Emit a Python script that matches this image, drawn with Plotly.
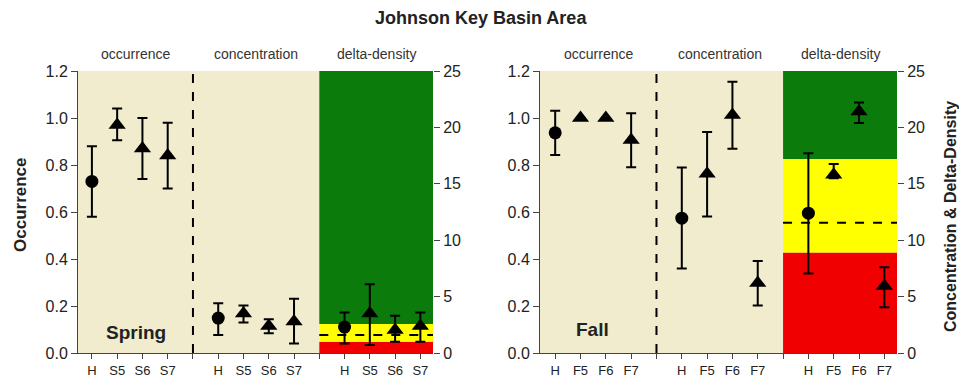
import plotly.graph_objects as go

# Sites per season
spring_sites = ["H", "S5", "S6", "S7"]
fall_sites = ["H", "F5", "F6", "F7"]

# Spring: occurrence (left axis), concentration and delta-density (right axis)
spring_occ = [0.73, 0.97, 0.87, 0.84]
spring_occ_lo = [0.58, 0.905, 0.74, 0.70]
spring_occ_hi = [0.88, 1.04, 1.00, 0.98]

spring_conc = [3.1, 3.5, 2.4, 2.8]
spring_conc_lo = [1.6, 2.7, 1.75, 0.85]
spring_conc_hi = [4.4, 4.2, 3.0, 4.8]

spring_dd = [2.3, 3.5, 2.05, 2.4]
spring_dd_lo = [0.85, 0.7, 1.0, 1.0]
spring_dd_hi = [3.6, 6.1, 3.3, 3.6]

# Fall
fall_occ = [0.937, 1.0, 1.0, 0.906]
fall_occ_lo = [0.843, 1.0, 1.0, 0.79]
fall_occ_hi = [1.031, 1.0, 1.0, 1.02]

fall_conc = [11.95, 15.9, 21.1, 6.2]
fall_conc_lo = [7.5, 12.1, 18.1, 4.2]
fall_conc_hi = [16.45, 19.6, 24.05, 8.15]

fall_dd = [12.4, 15.8, 21.4, 5.95]
fall_dd_lo = [7.05, 15.5, 20.4, 4.05]
fall_dd_hi = [17.7, 16.75, 22.2, 7.6]

# Delta-density bands: [red/yellow boundary, yellow/green boundary] and reference line
spring_bands = [1.0, 2.57]
spring_ref = 1.6
fall_bands = [8.9, 17.2]
fall_ref = 11.55

occ_ticks = [0, 0.2, 0.4, 0.6, 0.8, 1.0, 1.2]
dd_ticks = [0, 5, 10, 15, 20, 25]

W, H = 959, 382
BEIGE = "#F1ECCE"
GREEN = "#0B7B0B"
YELLOW = "#FFFF00"
RED = "#F00000"
FONT = "Liberation Sans, Arial, sans-serif"

symbols = ["circle", "triangle-up", "triangle-up", "triangle-up"]
sizes = [13, 15, 15, 15]


def err(vals, lo, hi):
    return dict(type="data", symmetric=False,
                array=[h - v for v, h in zip(vals, hi)],
                arrayminus=[v - l for v, l in zip(vals, lo)],
                color="black", thickness=2, width=5)


fig = go.Figure()


def add_panel(xa, ya_left, ya_right, occ, occ_lo, occ_hi, conc, conc_lo, conc_hi,
              dd, dd_lo, dd_hi):
    groups = [
        ([0, 1, 2, 3], occ, occ_lo, occ_hi, ya_left),
        ([5, 6, 7, 8], conc, conc_lo, conc_hi, ya_right),
        ([10, 11, 12, 13], dd, dd_lo, dd_hi, ya_right),
    ]
    for xs, v, lo, hi, ya in groups:
        fig.add_trace(go.Scatter(
            x=xs, y=v, mode="markers", xaxis=xa, yaxis=ya,
            marker=dict(symbol=symbols, size=sizes, color="black", opacity=1,
                        line=dict(width=0)),
            error_y=err(v, lo, hi), showlegend=False, hoverinfo="skip"))


add_panel("x", "y", "y2", spring_occ, spring_occ_lo, spring_occ_hi,
          spring_conc, spring_conc_lo, spring_conc_hi,
          spring_dd, spring_dd_lo, spring_dd_hi)
add_panel("x2", "y3", "y4", fall_occ, fall_occ_lo, fall_occ_hi,
          fall_conc, fall_conc_lo, fall_conc_hi,
          fall_dd, fall_dd_lo, fall_dd_hi)

shapes = []


def panel_shapes(xr, yr_right, x0, x1, bands, ref):
    # beige background for occurrence + concentration sections
    shapes.append(dict(type="rect", xref=xr, yref=yr_right, x0=x0, x1=9, y0=0, y1=25,
                       fillcolor=BEIGE, line=dict(width=0), layer="below"))
    # delta-density bands
    shapes.append(dict(type="rect", xref=xr, yref=yr_right, x0=9, x1=x1, y0=0, y1=bands[0],
                       fillcolor=RED, line=dict(width=0), layer="below"))
    shapes.append(dict(type="rect", xref=xr, yref=yr_right, x0=9, x1=x1, y0=bands[0], y1=bands[1],
                       fillcolor=YELLOW, line=dict(width=0), layer="below"))
    shapes.append(dict(type="rect", xref=xr, yref=yr_right, x0=9, x1=x1, y0=bands[1], y1=25,
                       fillcolor=GREEN, line=dict(width=0), layer="below"))
    # reference dashed line
    shapes.append(dict(type="line", xref=xr, yref=yr_right, x0=9, x1=x1, y0=ref, y1=ref,
                       line=dict(color="black", width=2, dash="dash"), layer="below"))
    # divider between occurrence and concentration
    shapes.append(dict(type="line", xref=xr, yref=yr_right, x0=4, x1=4, y0=0, y1=25,
                       line=dict(color="black", width=2, dash="dash"), layer="below"))


panel_shapes("x", "y2", -0.55, 13.5, spring_bands, spring_ref)
panel_shapes("x2", "y4", -0.6, 13.5, fall_bands, fall_ref)

ydom = [(H - 353) / H, (H - 71) / H]
tickvals = list(range(14))
spring_text = spring_sites + [""] + spring_sites + [""] + spring_sites
fall_text = fall_sites + [""] + fall_sites + [""] + fall_sites

xcommon = dict(tickvals=tickvals, ticks="outside", ticklen=5, tickcolor="#444",
               showline=True, linecolor="#444", linewidth=1, showgrid=False,
               zeroline=False, automargin=False,
               tickfont=dict(family=FONT, size=13, color="#222"))
yl = dict(range=[0, 1.2], tickvals=occ_ticks, ticktext=[f"{t:.1f}" for t in occ_ticks],
          domain=ydom, ticks="outside", ticklen=6, tickcolor="#444", showline=True,
          linecolor="#444", linewidth=1, showgrid=False, zeroline=False, automargin=False,
          tickfont=dict(family=FONT, size=16, color="#222"))
yr = dict(range=[0, 25], tickvals=dd_ticks, side="right", ticks="outside", ticklen=6,
          tickcolor="#444", showline=False, showgrid=False, zeroline=False, automargin=False,
          tickfont=dict(family=FONT, size=16, color="#222"))

fig.update_layout(
    width=W, height=H, autosize=False,
    margin=dict(l=0, r=0, t=0, b=0, pad=0),
    paper_bgcolor="white", plot_bgcolor="white",
    xaxis=dict(domain=[78 / W, 433 / W], range=[-0.55, 13.5], anchor="y",
               ticktext=spring_text, **xcommon),
    yaxis=dict(anchor="x", **yl),
    yaxis2=dict(anchor="x", overlaying="y", **yr),
    xaxis2=dict(domain=[540 / W, 897 / W], range=[-0.6, 13.5], anchor="y3",
                ticktext=fall_text, **xcommon),
    yaxis3=dict(anchor="x2", **yl),
    yaxis4=dict(anchor="x2", overlaying="y3", **yr),
    shapes=shapes,
    showlegend=False,
)

ann = []
ann.append(dict(text="<b>Johnson Key Basin Area</b>", x=481 / W, y=1 - 18 / H,
                xref="paper", yref="paper", yanchor="middle", showarrow=False,
                font=dict(family=FONT, size=18, color="#222")))
for xr, centers in [("x", [1.72, 6.5, 11.25]), ("x2", [1.7, 6.5, 11.25])]:
    for c, t in zip(centers, ["occurrence", "concentration", "delta-density"]):
        ann.append(dict(text=t, x=c, xref=xr, y=1 - 54 / H, yref="paper",
                        yanchor="middle", showarrow=False,
                        font=dict(family=FONT, size=14, color="#333")))
ann.append(dict(text="<b>Spring</b>", x=1.73, xref="x", y=0.089, yref="y",
                yanchor="middle", showarrow=False,
                font=dict(family=FONT, size=19, color="#222")))
ann.append(dict(text="<b>Fall</b>", x=1.46, xref="x2", y=0.098, yref="y3",
                yanchor="middle", showarrow=False,
                font=dict(family=FONT, size=19, color="#222")))
ann.append(dict(text="<b>Occurrence</b>", x=20 / W, y=1 - 205 / H, xref="paper",
                yref="paper", xanchor="center", yanchor="middle", textangle=-90,
                showarrow=False, font=dict(family=FONT, size=17, color="#222")))
ann.append(dict(text="<b>Concentration &amp; Delta-Density</b>", x=950 / W, y=1 - 217 / H,
                xref="paper", yref="paper", xanchor="center", yanchor="middle",
                textangle=-90, showarrow=False,
                font=dict(family=FONT, size=16, color="#222")))
fig.update_layout(annotations=ann)

fig.write_html("out.html")
